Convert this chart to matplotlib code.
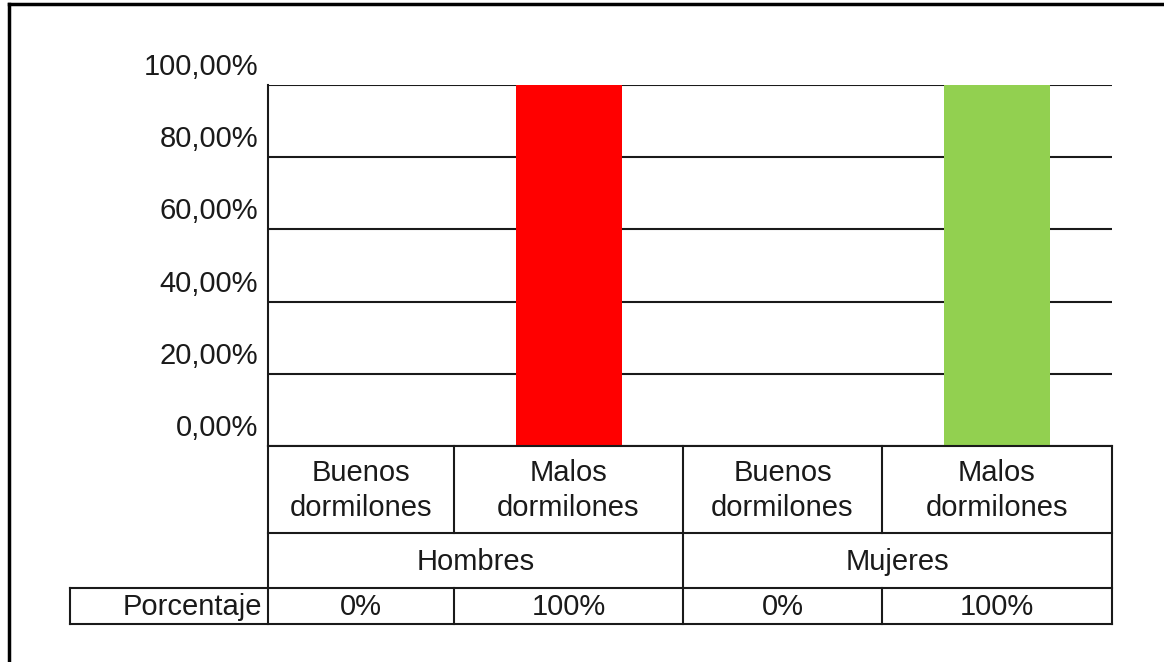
import matplotlib
matplotlib.use("Agg")
import matplotlib.pyplot as plt
from matplotlib.lines import Line2D
from matplotlib.transforms import ScaledTranslation

# datos de la encuesta de sueño
categorias = ["Buenos\ndormilones", "Malos\ndormilones", "Buenos\ndormilones", "Malos\ndormilones"]
grupos = ["Hombres", "Mujeres"]
porcentajes = [0.0, 1.0, 0.0, 1.0]
etiquetas_tabla = ["0%", "100%", "0%", "100%"]
ticks_y = [0.0, 0.2, 0.4, 0.6, 0.8, 1.0]
etiquetas_y = ["0,00%", "20,00%", "40,00%", "60,00%", "80,00%", "100,00%"]
colores = ["#FF0000", "#FF0000", "#92D050", "#92D050"]

plt.rcParams["font.family"] = ["Liberation Sans", "DejaVu Sans"]

W, H, DPI = 1164, 662, 100
# anchos de columna de la tabla (px) y alto de sus filas
anchos = [186, 229, 199, 230]
filas = [0, 87, 142, 178]
ancho_rotulo = 198
ancho_barra = 106

bordes = [0]
for a in anchos:
    bordes.append(bordes[-1] + a)
centros = [(bordes[i] + bordes[i + 1]) / 2 for i in range(len(anchos))]
total = bordes[-1]

fig = plt.figure(figsize=(W / DPI, H / DPI), dpi=DPI)
fig.patch.set_facecolor("white")

izq, arriba, abajo, base_tabla = 268, 85, 446, 624
ax = fig.add_axes([izq / W, 1 - abajo / H, total / W, (abajo - arriba) / H])
ax_t = fig.add_axes([izq / W, 1 - base_tabla / H, total / W, (base_tabla - abajo) / H])

# barras
ax.bar(centros, porcentajes, width=ancho_barra, color=colores, zorder=3)
ax.set_xlim(0, total)
ax.set_ylim(0, 1)
ax.set_yticks(ticks_y)
ax.set_xticks([])
ax.grid(axis="y", color="#1a1a1a", linewidth=1.5, zorder=1)
ax.set_axisbelow(True)
ax.tick_params(axis="y", length=0, labelleft=False)
for lado in ["top", "right", "bottom"]:
    ax.spines[lado].set_visible(False)
ax.spines["left"].set_linewidth(1.5)
ax.spines["left"].set_color("#1a1a1a")

fs = 21
texto = "#1a1a1a"

# etiquetas del eje y, un poco por encima de cada línea
desplazamiento = ScaledTranslation(-10 / DPI, 10 / DPI, fig.dpi_scale_trans)
for v, txt in zip(ticks_y, etiquetas_y):
    ax.text(0, v, txt, transform=ax.get_yaxis_transform() + desplazamiento,
            ha="right", va="baseline", fontsize=fs, color=texto)

# tabla de datos bajo el gráfico
ax_t.set_xlim(0, total)
ax_t.set_ylim(filas[-1], 0)
ax_t.axis("off")
kw = dict(color="#1a1a1a", linewidth=1.5, clip_on=False)
ax_t.plot([0, total], [filas[0]] * 2, **kw)
ax_t.plot([0, total], [filas[1]] * 2, **kw)
ax_t.plot([-ancho_rotulo, total], [filas[2]] * 2, **kw)
ax_t.plot([-ancho_rotulo, total], [filas[3]] * 2, **kw)
ax_t.plot([0, 0], [filas[0], filas[3]], **kw)
ax_t.plot([total, total], [filas[0], filas[3]], **kw)
ax_t.plot([-ancho_rotulo, -ancho_rotulo], [filas[2], filas[3]], **kw)
for i, x in enumerate(bordes[1:-1]):
    if i == 1:
        ax_t.plot([x, x], [filas[0], filas[3]], **kw)
    else:
        ax_t.plot([x, x], [filas[0], filas[1]], **kw)
        ax_t.plot([x, x], [filas[2], filas[3]], **kw)

for c, cat, val in zip(centros, categorias, etiquetas_tabla):
    ax_t.text(c, (filas[0] + filas[1]) / 2 + 1, cat, ha="center", va="center",
              multialignment="center", fontsize=fs, linespacing=1.35, color=texto)
    ax_t.text(c, (filas[2] + filas[3]) / 2 + 1, val, ha="center", va="center",
              fontsize=fs, color=texto)
for g, grupo in enumerate(grupos):
    cx = (bordes[2 * g] + bordes[2 * g + 2]) / 2
    ax_t.text(cx, (filas[1] + filas[2]) / 2 + 1, grupo, ha="center", va="center",
              fontsize=fs, color=texto)
ax_t.text(-6, (filas[2] + filas[3]) / 2 + 1, "Porcentaje", ha="right", va="center",
          fontsize=fs, color=texto)

# marco exterior (borde superior e izquierdo)
fig.add_artist(Line2D([9 / W, 1], [1 - 4 / H] * 2, color="black", linewidth=2.5))
fig.add_artist(Line2D([9 / W] * 2, [0, 1 - 4 / H], color="black", linewidth=2.5))

fig.savefig("out.png", dpi=DPI)
